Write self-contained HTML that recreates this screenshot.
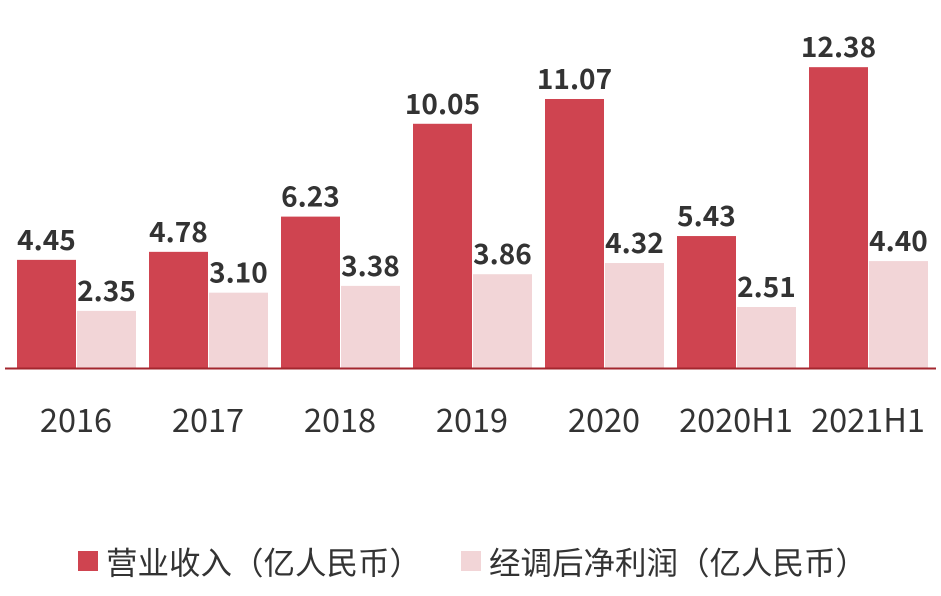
<!DOCTYPE html>
<html><head><meta charset="utf-8">
<style>
html,body{margin:0;padding:0;background:#fff;}
body{width:941px;height:591px;overflow:hidden;font-family:"Noto Sans CJK SC","Liberation Sans",sans-serif;}
</style></head>
<body>
<svg id="chart" width="941" height="591" xmlns="http://www.w3.org/2000/svg" font-family="'Noto Sans CJK SC','Liberation Sans',sans-serif"></svg>
<script>
const categories=["2016","2017","2018","2019","2020","2020H1","2021H1"];
const revenue=[4.45,4.78,6.23,10.05,11.07,5.43,12.38];
const profit=[2.35,3.10,3.38,3.86,4.32,2.51,4.40];
const revenueLabels=["4.45","4.78","6.23","10.05","11.07","5.43","12.38"];
const profitLabels=["2.35","3.10","3.38","3.86","4.32","2.51","4.40"];

const svg=document.getElementById('chart');
const NS="http://www.w3.org/2000/svg";
const baseY=368, scale=24.3, x0=17, pitch=132, bw=59;
const yOf=v=>baseY-v*scale;
const xOf=i=>x0+i*pitch;
function mk(tag,attrs){const e=document.createElementNS(NS,tag);for(const k in attrs)e.setAttribute(k,attrs[k]);svg.appendChild(e);return e;}

categories.forEach((c,i)=>{
  const x=xOf(i);
  const r=mk('rect',{x:x,y:yOf(revenue[i]),width:bw,height:revenue[i]*scale,fill:'#cf4450'});
  
  
  const p=mk('rect',{x:x+bw+1,y:yOf(profit[i]),width:bw,height:profit[i]*scale,fill:'#f2d5d7'});
  
  
  const t1=mk('text',{x:x+bw/2,y:yOf(revenue[i])-10,'text-anchor':'middle','font-size':28,'font-weight':'bold',fill:'#333'});
  t1.textContent=revenueLabels[i];
  
  
  const t2=mk('text',{x:x+bw+1+bw/2,y:yOf(profit[i])-10,'text-anchor':'middle','font-size':28,'font-weight':'bold',fill:'#333'});
  t2.textContent=profitLabels[i];
  
  
  const cl=mk('text',{x:x+bw,y:432,'text-anchor':'middle','font-size':32.5,fill:'#333'});
  cl.textContent=c;
  
  
});
const ax=mk('line',{x1:5,x2:936,y1:baseY+0.5,y2:baseY+0.5,stroke:'#a3262e','stroke-width':2});



const l1=mk('rect',{x:78,y:551,width:20,height:20,fill:'#cf4450'});


const lt1=mk('text',{x:106,y:574,'font-size':31.5,fill:'#333'});
lt1.textContent='营业收入（亿人民币）';


const l2=mk('rect',{x:461,y:551,width:20,height:20,fill:'#f2d5d7'});


const lt2=mk('text',{x:489,y:574,'font-size':31.5,fill:'#333'});
lt2.textContent='经调后净利润（亿人民币）';


</script>
</body></html>
